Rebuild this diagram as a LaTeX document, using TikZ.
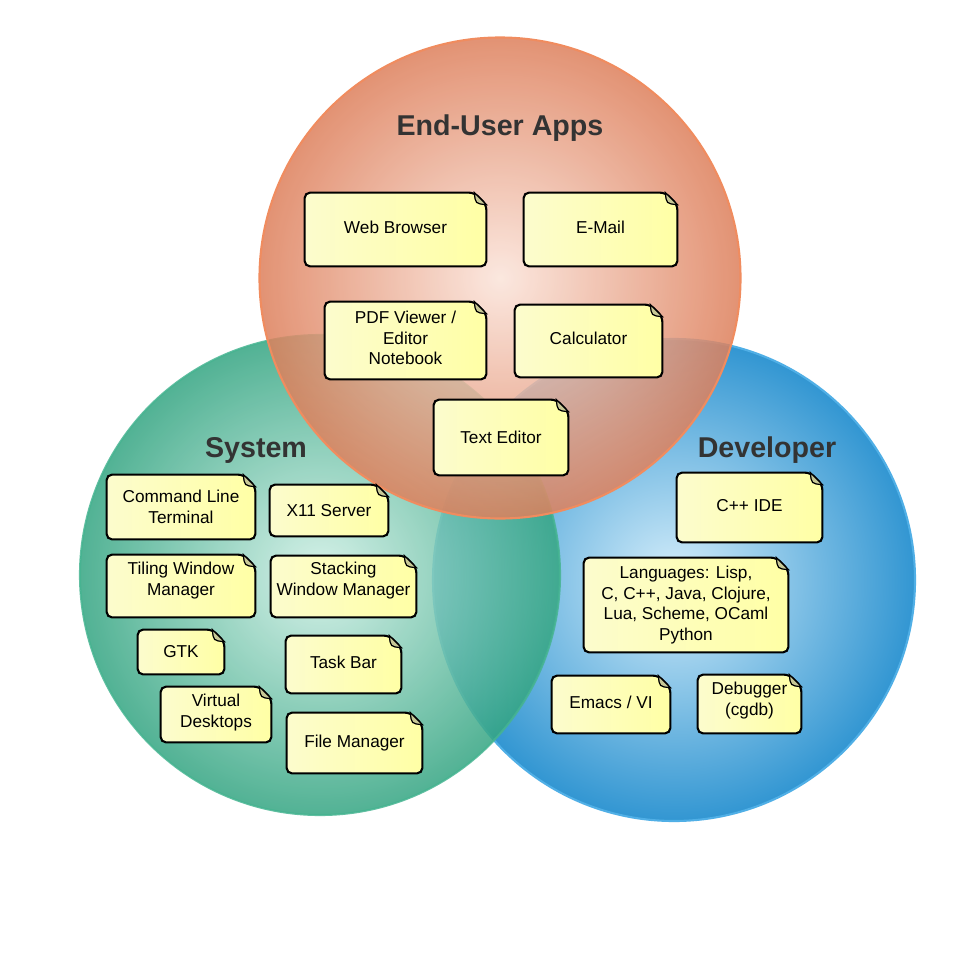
\documentclass[tikz,border=0pt]{standalone}
\usepackage{fontspec}
\setmainfont{Liberation Sans}
\usetikzlibrary{calc}
\definecolor{appsin}{RGB}{251,228,218}
\definecolor{appsout}{RGB}{222,128,92}
\definecolor{appsedge}{RGB}{240,140,95}
\definecolor{sysin}{RGB}{208,240,230}
\definecolor{sysout}{RGB}{52,165,130}
\definecolor{sysedge}{RGB}{70,180,145}
\definecolor{devin}{RGB}{212,237,250}
\definecolor{devout}{RGB}{50,150,210}
\definecolor{devedge}{RGB}{80,175,230}
\definecolor{noteleft}{RGB}{252,252,205}
\definecolor{noteright}{RGB}{255,255,165}
\definecolor{notefold}{RGB}{200,200,150}
\definecolor{titlegray}{RGB}{51,51,51}
\newcommand{\notefont}{\fontsize{9.8}{11.7}\selectfont}
\newcommand{\titlefont}{\fontsize{16.3}{19}\selectfont\bfseries}
\pgfdeclarelayer{circles}
\pgfdeclarelayer{paper}
\pgfsetlayers{circles,paper,main}

\tikzset{
    note/.style 2 args={inner sep=2pt, align=center, font=\notefont,
        minimum width=#1*0.02cm, minimum height=#2*0.02cm},
    lift/.style={text depth=#1*0.02cm},
    title/.style={font=\titlefont, text=titlegray},
    paper/.style={left color=noteleft, right color=noteright, draw=black,
        line width=1.2pt, rounded corners=3pt},
    curl/.style={fill=notefold, draw=black, line width=0.7pt}
}

\begin{document}
\begin{tikzpicture}[x=0.02cm, y=-0.02cm]
        \useasboundingbox (0,0) rectangle (953,960);
        \coordinate (apps) at (500,278);
        \coordinate (sys) at (320,575);
        \coordinate (dev) at (674,580);

        \begin{pgfonlayer}{circles}
        \fill[white] (0,0) rectangle (953,960);
        \shade[inner color=devin, outer color=devout] (dev) circle (241);
        \draw[devedge, line width=1.2pt] (dev) circle (241);
        \shade[inner color=sysin, outer color=sysout, fill opacity=0.85] (sys) circle (240);
        \draw[sysedge, line width=1.2pt, opacity=0.85] (sys) circle (240);
        \shade[inner color=appsin, outer color=appsout, fill opacity=0.85] (apps) circle (240.5);
        \draw[appsedge, line width=1.2pt] (apps) circle (240.5);
        \end{pgfonlayer}

        \node[title] (appstitle) at (500,128) {End-User Apps};
        \node[title] (systitle) at (256,450) {System};
        \node[title] (devtitle) at (767,450) {Developer};

        \node[note={181}{73}, lift=4] (web) at (395.5,229.5) {Web Browser};
        \node[note={153}{73}, lift=4] (mail) at (600.5,229.5) {E-Mail};
        \node[note={161}{77}, lift=5] (pdf) at (405.5,340.5) {PDF Viewer /\\ Editor\\ Notebook};
        \node[note={147}{72}, lift=6] (calculator) at (588.5,341) {Calculator};
        \node[note={134}{75}] (texted) at (501,437.5) {Text Editor};

        \node[note={148}{64}] (cli) at (181,507) {Command Line\\ Terminal};
        \node[note={118}{51}] (xserver) at (329,510.5) {X11 Server};
        \node[note={148}{62}, lift=14.5] (tiling) at (181,586) {Tiling Window\\ Manager};
        \node[note={145}{61}, lift=15.5] (stacking) at (343.5,586.5) {Stacking\\ Window Manager};
        \node[note={86}{44}] (gtk) at (181,652) {GTK};
        \node[note={115}{57}, lift=4] (taskbar) at (343.5,664.5) {Task Bar};
        \node[note={110}{55}, lift=7.5] (virtual) at (216,714.5) {Virtual\\ Desktops};
        \node[note={135}{60}] (files) at (354.5,743) {File Manager};

        \node[note={145}{69}, lift=4] (ide) at (749.5,507.5) {C++ IDE};
        \node[note={204}{94}] (langs) at (686,605) {Languages: Lisp,\\ C, C++, Java, Clojure,\\ Lua, Scheme, OCaml\\ Python};
        \node[note={118}{57}, lift=4] (emacs) at (611,704.5) {Emacs / VI};
        \node[note={103}{58}, lift=10] (debug) at (749.5,704) {Debugger\\ (cgdb)};

        \begin{pgfonlayer}{paper}
        \foreach \n in {web,mail,pdf,calculator,texted,cli,xserver,tiling,stacking,gtk,taskbar,virtual,files,ide,langs,emacs,debug}{
            \shadedraw[paper] (\n.north west) -- ($(\n.north east)+(-12,0)$) -- ($(\n.north east)+(0,12)$) |- (\n.south west) -- cycle;
            \filldraw[curl] ($(\n.north east)+(-12,0)$) .. controls ($(\n.north east)+(-11,11)$) .. ($(\n.north east)+(0,12)$) -- cycle;
        }
        \end{pgfonlayer}
\end{tikzpicture}
\end{document}
